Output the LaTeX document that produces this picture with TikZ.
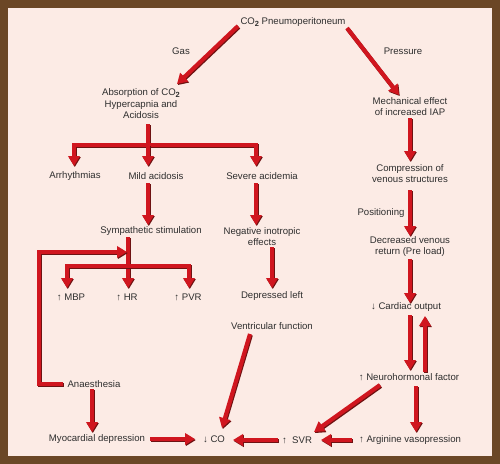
\documentclass[tikz,border=0pt]{standalone}
\usepackage{fontspec}
\setmainfont{Liberation Sans}
\usetikzlibrary{arrows.meta,calc}
\definecolor{bgc}{HTML}{FCEBE5}
\definecolor{framec}{HTML}{6B4726}
\definecolor{redc}{HTML}{D0161F}
\definecolor{shadc}{HTML}{6E1212}
\definecolor{txtc}{HTML}{2E2E2E}
\newcommand{\cotwo}{CO\raisebox{-0.4ex}{\fontsize{5.6}{6}\selectfont\bfseries 2}}
\newcommand{\rpath}[2]{%
  \begin{scope}[transform canvas={shift={(0.6pt,-0.8pt)}}]\draw[#1,draw=shadc] #2;\end{scope}%
  \draw[#1] #2;}
\tikzset{
  lbl/.style={inner sep=0pt, text=txtc, font=\fontsize{7.2}{8.6}\selectfont, align=center},
  redline/.style={draw=redc, line width=3.1pt, line join=miter},
  redarrow/.style={redline, -{Triangle[length=7.5pt,width=8.5pt]}},
}
\begin{document}
\begin{tikzpicture}[x=0.75pt,y=-0.75pt]
\useasboundingbox (0,0) rectangle (500,464);
\fill[framec] (0,0) rectangle (500,464);
\fill[bgc] (8,8) rectangle (492,456);

% nodes
\node[lbl] (co2) at (293,22) {\cotwo\ Pneumoperitoneum};
\node[lbl] (gas) at (181,51) {Gas};
\node[lbl] (pressure) at (403,51) {Pressure};
\node[lbl] (absorb) at (141,104) {Absorption of \cotwo\\Hypercapnia and\\Acidosis};
\node[lbl] (mech) at (410,106.5) {Mechanical effect\\of increased IAP};
\node[lbl] (arr) at (75,176) {Arrhythmias};
\node[lbl] (mild) at (156,176) {Mild acidosis};
\node[lbl] (severe) at (262,176) {Severe acidemia};
\node[lbl] (symp) at (151,231) {Sympathetic stimulation};
\node[lbl] (neg) at (262,236.5) {Negative inotropic\\effects};
\node[lbl] (mbp) at (71,297) {↑ MBP};
\node[lbl] (hr) at (127,297) {↑ HR};
\node[lbl] (pvr) at (188,297) {↑ PVR};
\node[lbl] (depl) at (272,296) {Depressed left};
\node[lbl] (ventf) at (272,326) {Ventricular function};
\node[lbl] (anaes) at (94,384) {Anaesthesia};
\node[lbl] (myo) at (97,439) {Myocardial depression};
\node[lbl] (co) at (214,439) {↓ CO};
\node[lbl] (svr) at (297,440) {↑ \ SVR};
\node[lbl] (argi) at (410,440) {↑ Arginine vasopression};
\node[lbl] (neuro) at (409,377) {↑ Neurohormonal factor};
\node[lbl] (cardiac) at (406,307.5) {↓ Cardiac output};
\node[lbl] (comp) at (410,173.5) {Compression of\\venous structures};
\node[lbl] (positioning) at (381,213) {Positioning};
\node[lbl] (decr) at (410,246.5) {Decreased venous\\return (Pre load)};

% junctions
\coordinate (j1) at (148,145);
\coordinate (j2) at (128,266);

% connectors
\rpath{redarrow}{($(co2)+(-55,4)$) -- ($(absorb)+(36,-20)$)}
\rpath{redarrow}{($(co2)+(54,6)$) -- ($(mech)+(-11,-11.5)$)}

\rpath{redline}{($(absorb)+(7,20)$) -- (j1)}
\rpath{redarrow}{(j1) -| ($(arr)+(-1,-10)$)}
\rpath{redarrow}{(j1) -| ($(severe)+(-6,-10)$)}
\rpath{redarrow}{(j1) -- ($(mild)+(-8,-10)$)}

\rpath{redarrow}{($(mild)+(-8,7)$) -- ($(symp)+(-3,-6)$)}
\rpath{redarrow}{($(severe)+(-6,7)$) -- ($(neg)+(-6,-11.5)$)}
\rpath{redarrow}{($(neg)+(10,10.5)$) -- ($(depl)+(0,-8)$)}

\rpath{redarrow}{($(symp)+(-23,6)$) -- ($(hr)+(1,-9)$)}
\rpath{redarrow}{(j2) -| ($(mbp)+(-4,-9)$)}
\rpath{redarrow}{(j2) -| ($(pvr)+(1,-9)$)}

\rpath{redarrow}{($(anaes)+(-31,0)$) -| ($(symp)+(-112,21)$) -- ($(symp)+(-24,21)$)}
\rpath{redarrow}{($(anaes)+(-2,5)$) -- ($(myo)+(-5,-7)$)}
\rpath{redarrow}{($(myo)+(53,0)$) -- ($(co)+(-19,0)$)}
\rpath{redarrow}{($(ventf)+(-22,8)$) -- ($(co)+(8,-11)$)}
\rpath{redarrow}{($(svr)+(-19,0)$) -- ($(co)+(19,1)$)}
\rpath{redarrow}{($(argi)+(-58,0)$) -- ($(svr)+(24,0)$)}
\rpath{redarrow}{($(neuro)+(-29,8)$) -- ($(svr)+(17,-8)$)}
\rpath{redarrow}{($(neuro)+(7,9)$) -- ($(argi)+(6,-8)$)}
\rpath{redarrow}{($(cardiac)+(4,7.5)$) -- ($(neuro)+(1,-7)$)}
\rpath{redarrow}{($(neuro)+(16,-5)$) -- ($(cardiac)+(19,8.5)$)}

\rpath{redarrow}{($(mech)+(0,11.5)$) -- ($(comp)+(0,-12.5)$)}
\rpath{redarrow}{($(comp)+(0,16.5)$) -- ($(decr)+(0,-10.5)$)}
\rpath{redarrow}{($(decr)+(0,12)$) -- ($(cardiac)+(4,-4.5)$)}
\end{tikzpicture}
\end{document}
